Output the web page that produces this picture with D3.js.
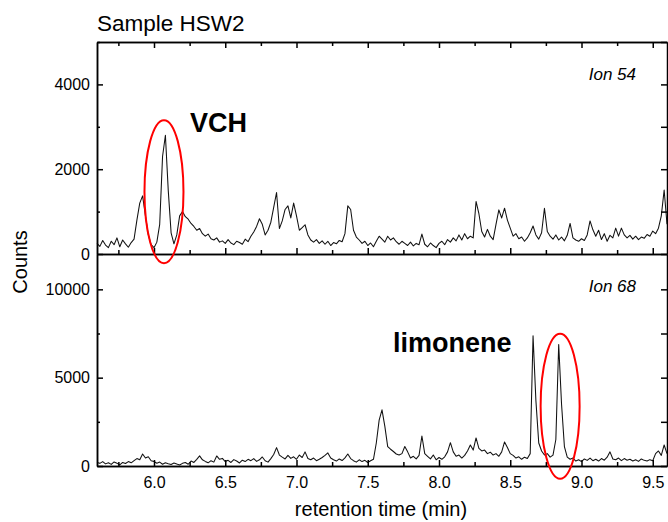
<!DOCTYPE html>
<html>
<head>
<meta charset="utf-8">
<script src="https://cdn.jsdelivr.net/npm/d3@7"></script>
<style>
  body { margin: 0; background: #fff; }
  svg { font-family: "Liberation Sans", Arial, sans-serif; display: block; }
  .axis path, .axis line { stroke: #000; stroke-width: 1.5; }
  .axis text { font-size: 16px; fill: #000; }
  .trace { fill: none; stroke: #111; stroke-width: 1.05; stroke-linejoin: round; }
</style>
</head>
<body>
<svg id="chart"></svg>
<script>
// sampling grid of the chromatogram (min)
const timeStart = 5.6;
const timeStep = 0.02;

// Ion 54 counts, one value per 0.02 min from 5.60 to 9.60
const ion54Counts = [
  250, 180, 320, 210, 150, 300, 220, 380, 170, 330,
  240, 160, 270, 350, 800, 1200, 1370, 900, 450, 220,
  150, 280, 700, 2300, 2800, 1500, 500, 240, 450, 900,
  1000, 880, 820, 720, 650, 560, 600, 480, 420, 470,
  360, 330, 380, 280, 310, 250, 340, 260, 220, 300,
  270, 230, 350, 290, 420, 520, 650, 830, 700, 450,
  560, 750, 1100, 1450, 600, 780, 1050, 1135, 850, 1200,
  900, 560, 620, 690, 450, 330, 280, 340, 250, 310,
  230, 300, 200, 270, 240, 320, 290, 480, 1135, 1050,
  560, 400, 330, 250, 300, 200, 260, 170, 300, 420,
  350, 280, 420, 330, 380, 290, 230, 300, 250, 200,
  280, 190, 250, 220, 470, 230, 170, 260, 200, 150,
  250, 300, 220, 340, 280, 380, 310, 450, 330, 480,
  360, 420, 380, 1240, 950, 530, 400, 580, 420, 340,
  700, 1040, 850, 1080, 800, 610, 420, 480, 360, 400,
  300, 380, 500, 660, 450, 350, 500, 1080, 530, 420,
  350, 450, 330, 400, 310, 440, 720, 380, 330, 300,
  360, 320, 450, 780, 570, 420, 560, 340, 480, 300,
  440, 380, 610, 420, 610, 450, 380, 440, 350, 420,
  340, 400, 370, 460, 420, 540, 480, 610, 900, 1510,
  700
];

// Ion 68 counts, same grid
const ion68Counts = [
  200, 150, 250, 120, 180, 90, 230, 160, 60, 200,
  140, 250, 180, 300, 420, 350, 680, 450, 520, 300,
  250, 160, 220, 100, 180, 130, 90, 170, 110, 60,
  150, 200, 100, 280, 200, 380, 570, 350, 260, 180,
  300, 220, 570, 380, 430, 250, 320, 200, 360, 280,
  170, 330, 250, 380, 300, 420, 260, 350, 510, 300,
  220, 420, 650, 1040, 620, 500, 400, 600, 430, 520,
  380, 620, 480, 800, 420, 350, 450, 300, 380, 480,
  600, 740, 450, 350, 280, 400, 310, 460, 680, 420,
  300, 220, 350, 250, 320, 200, 300, 380, 1300, 2600,
  3180, 2240, 1100, 950, 820, 680, 620, 700, 1100, 800,
  450, 550, 400, 600, 1700, 700, 550, 400, 620, 350,
  480, 380, 520, 800, 1320, 800, 550, 620, 450, 600,
  850, 1190, 900, 1590, 1000, 850, 900, 700, 780, 620,
  700, 550, 800, 1360, 1050, 700, 600, 450, 520, 380,
  500, 420, 700, 7370, 3700, 1300, 850, 620, 700, 500,
  620, 1500, 6880, 3500, 1100, 500, 380, 450, 280, 350,
  250, 400, 320, 450, 300, 380, 280, 420, 330, 500,
  800, 400, 350, 450, 300, 420, 330, 380, 280, 350,
  260, 400, 320, 280, 360, 300, 700, 850, 600, 1190,
  700
];

// axis ticks
const timeTicks = [6.0, 6.5, 7.0, 7.5, 8.0, 8.5, 9.0, 9.5];
const timeMinorTicks = [5.75, 6.25, 6.75, 7.25, 7.75, 8.25, 8.75, 9.25];
const ion54Ticks = [0, 2000, 4000];
const ion54MinorTicks = [1000, 3000, 5000];
const ion68Ticks = [0, 5000, 10000];
const ion68MinorTicks = [2500, 7500];

// highlighted peaks: [time, counts] centre of each ring
const vchPeak = [6.07, 1470];
const limonenePeak = [8.85, 3380];

const W = 668, H = 522;
const margin = { left: 97, right: 1 };
const xLeft = margin.left, xRight = W - margin.right;

const svg = d3.select("#chart").attr("width", W).attr("height", H);

const x = d3.scaleLinear().domain([5.6, 9.6]).range([xLeft, xRight]);
const yTop = d3.scaleLinear().domain([0, 5000]).range([254, 42]);
const yBot = d3.scaleLinear().domain([0, 12000]).range([466, 254]);

const toPoints = vals => vals.map((v, i) => ({ t: timeStart + i * timeStep, v: v }));

function drawTrace(vals, y) {
    const line = d3.line().x(d => x(d.t)).y(d => y(d.v));
    svg.append("path")
        .datum(toPoints(vals))
        .attr("class", "trace")
        .attr("d", line);
}

drawTrace(ion54Counts, yTop);
drawTrace(ion68Counts, yBot);

// helper for unlabeled tick rows
function tickRow(axisFn, scale, values, size, transform) {
    svg.append("g")
        .attr("class", "axis")
        .attr("transform", transform)
        .call(axisFn(scale).tickValues(values).tickSizeInner(size).tickSizeOuter(0).tickFormat(""));
}

// ---- top panel (Ion 54)
svg.append("g")
    .attr("class", "axis")
    .attr("transform", `translate(${xLeft},0)`)
    .call(d3.axisLeft(yTop).tickValues(ion54Ticks).tickSizeInner(-6).tickSizeOuter(0)
        .tickPadding(7).tickFormat(d3.format("d")));
tickRow(d3.axisLeft, yTop, ion54MinorTicks, -3, `translate(${xLeft},0)`);
tickRow(d3.axisRight, yTop, ion54Ticks.concat(ion54MinorTicks), -6, `translate(${xRight},0)`);
tickRow(d3.axisTop, x, timeTicks, -6, `translate(0,${yTop(5000)})`);
tickRow(d3.axisTop, x, timeMinorTicks, -4, `translate(0,${yTop(5000)})`);
tickRow(d3.axisBottom, x, timeTicks, -6, `translate(0,${yTop(0)})`);
tickRow(d3.axisBottom, x, timeMinorTicks, -4, `translate(0,${yTop(0)})`);

// ---- bottom panel (Ion 68)
svg.append("g")
    .attr("class", "axis")
    .attr("transform", `translate(${xLeft},0)`)
    .call(d3.axisLeft(yBot).tickValues(ion68Ticks).tickSizeInner(-6).tickSizeOuter(0)
        .tickPadding(7).tickFormat(d3.format("d")));
tickRow(d3.axisLeft, yBot, ion68MinorTicks, -3, `translate(${xLeft},0)`);
tickRow(d3.axisRight, yBot, ion68Ticks.concat(ion68MinorTicks), -6, `translate(${xRight},0)`);
svg.append("g")
    .attr("class", "axis")
    .attr("transform", `translate(0,${yBot(0)})`)
    .call(d3.axisBottom(x).tickValues(timeTicks).tickSizeInner(-6).tickSizeOuter(0)
        .tickPadding(11).tickFormat(d3.format(".1f")));
tickRow(d3.axisBottom, x, timeMinorTicks, -4, `translate(0,${yBot(0)})`);

// red rings around the peaks
svg.append("ellipse")
    .attr("cx", x(vchPeak[0])).attr("cy", yTop(vchPeak[1]))
    .attr("rx", 19.5).attr("ry", 71.5)
    .style("fill", "none").style("stroke", "#f00").style("stroke-width", 2);
svg.append("ellipse")
    .attr("cx", x(limonenePeak[0])).attr("cy", yBot(limonenePeak[1]))
    .attr("rx", 19.5).attr("ry", 72.5)
    .style("fill", "none").style("stroke", "#f00").style("stroke-width", 2);

// texts
svg.append("text")
    .attr("x", xLeft).attr("y", 31)
    .style("font-size", "22.5px")
    .text("Sample HSW2");

svg.append("text")
    .attr("transform", "translate(27,262) rotate(-90)")
    .style("text-anchor", "middle")
    .style("font-size", "20px")
    .text("Counts");

svg.append("text")
    .attr("x", 381).attr("y", 516)
    .style("text-anchor", "middle")
    .style("font-size", "20px")
    .text("retention time (min)");

svg.append("text")
    .attr("x", 190).attr("y", 132)
    .style("font-size", "27px").style("font-weight", "bold")
    .text("VCH");

svg.append("text")
    .attr("x", 393).attr("y", 352)
    .style("font-size", "27px").style("font-weight", "bold")
    .text("limonene");

svg.append("text")
    .attr("x", 636).attr("y", 80)
    .style("text-anchor", "end").style("font-size", "17px").style("font-style", "italic")
    .text("Ion 54");

svg.append("text")
    .attr("x", 636).attr("y", 292)
    .style("text-anchor", "end").style("font-size", "17px").style("font-style", "italic")
    .text("Ion 68");
</script>
</body>
</html>
